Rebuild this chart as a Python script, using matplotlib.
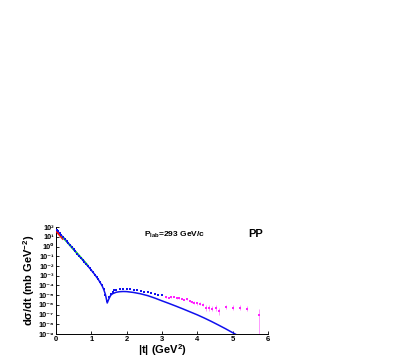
import numpy as np
import matplotlib
matplotlib.use("Agg")
import matplotlib.pyplot as plt

plt.rcParams['font.family'] = ['Liberation Sans', 'DejaVu Sans']
plt.rcParams['font.weight'] = 'bold'
plt.rcParams['mathtext.fontset'] = 'custom'
plt.rcParams['mathtext.rm'] = 'Liberation Sans:bold'
plt.rcParams['mathtext.bf'] = 'Liberation Sans:bold'
plt.rcParams['mathtext.it'] = 'Liberation Sans:bold'
plt.rcParams['mathtext.default'] = 'bf'

# Blue data points (|t|, log10 dsigma/dt)
t_blue = [0.02, 0.05, 0.1, 0.15, 0.2, 0.25, 0.3, 0.35, 0.4, 0.45, 0.5, 0.55, 0.6, 0.65,
          0.7, 0.75, 0.8, 0.85, 0.9, 0.95, 1.0, 1.05, 1.1, 1.15, 1.2, 1.25, 1.3, 1.35,
          1.4, 1.45, 1.5, 1.55, 1.6, 1.65, 1.7, 1.8, 1.9, 2.0, 2.1, 2.2, 2.3, 2.4, 2.5,
          2.6, 2.7, 2.8, 2.9, 3.0]
log_blue = [1.72, 1.6, 1.38, 1.17, 0.96, 0.75, 0.55, 0.34, 0.13, -0.08, -0.29, -0.5,
            -0.71, -0.92, -1.13, -1.34, -1.55, -1.76, -1.98, -2.2, -2.42, -2.65, -2.88,
            -3.12, -3.38, -3.66, -3.98, -4.38, -4.95, -5.55, -5.2, -4.85, -4.65, -4.5,
            -4.42, -4.35, -4.33, -4.35, -4.38, -4.43, -4.5, -4.57, -4.64, -4.72, -4.8,
            -4.88, -4.95, -5.02]

# Magenta data points with errors
t_mag = [3.12, 3.19, 3.27, 3.34, 3.42, 3.49, 3.56, 3.63, 3.70, 3.78, 3.85, 3.92, 4.0,
         4.07, 4.15, 4.24, 4.33, 4.43, 4.52, 4.62, 4.81, 5.01, 5.2, 5.4, 5.75]
log_mag = [-5.21, -5.28, -5.21, -5.17, -5.32, -5.28, -5.35, -5.45, -5.38, -5.55, -5.68,
           -5.76, -5.83, -5.89, -5.96, -6.3, -6.28, -6.37, -6.3, -6.64, -6.2, -6.27,
           -6.27, -6.37, -7.05]
err_mag = [0.05, 0.05, 0.05, 0.05, 0.05, 0.06, 0.06, 0.07, 0.08, 0.1, 0.12, 0.12, 0.14,
           0.15, 0.16, 0.3, 0.3, 0.3, 0.3, 0.35, 0.2, 0.25, 0.25, 0.3, 0.6]

# Model line
t_line = [0.0, 0.1, 0.2, 0.3, 0.4, 0.5, 0.6, 0.7, 0.8, 0.9, 1.0, 1.1, 1.2, 1.3, 1.35,
          1.4, 1.45, 1.5, 1.55, 1.6, 1.7, 1.8, 1.9, 2.0, 2.2, 2.4, 2.6, 2.8, 3.0, 3.2,
          3.4, 3.6, 3.8, 4.0, 4.2, 4.4, 4.6, 4.8, 5.0, 5.1]
log_line = [1.78, 1.36, 0.94, 0.53, 0.11, -0.31, -0.72, -1.14, -1.56, -1.99, -2.43,
            -2.89, -3.4, -4.0, -4.4, -4.95, -5.8, -5.35, -5.0, -4.85, -4.7, -4.64, -4.62,
            -4.63, -4.72, -4.86, -5.05, -5.3, -5.58, -5.85, -6.13, -6.42, -6.72, -7.02,
            -7.35, -7.7, -8.07, -8.45, -8.85, -9.05]

# Red and green low-t curves
t_red = [0.0, 0.06, 0.12, 0.19]
log_red = [1.6, 1.35, 1.1, 0.8]
t_green = [0.19, 0.4, 0.6, 0.88]
log_green = [1.0, 0.12, -0.71, -1.86]

# Tick labels
y_exps = [-9, -8, -7, -6, -5, -4, -3, -2, -1, 0, 1, 2]
y_ticklabels = ['10⁻⁹', '10⁻⁸', '10⁻⁷', '10⁻⁶', '10⁻⁵', '10⁻⁴', '10⁻³', '10⁻²',
                '10⁻¹', '10⁰', '10¹', '10²']
x_ticks = [0, 1, 2, 3, 4, 5, 6]

fig = plt.figure(figsize=(4.09, 3.6), dpi=100)
ax = fig.add_axes([0.137, 0.072, 0.518, 0.297])

ax.plot(t_line, 10.0 ** np.array(log_line), color='#1010ee', lw=1.1, zorder=2)
ax.plot(t_red, 10.0 ** np.array(log_red), color='#ee1111', lw=1.4, zorder=3)
ax.plot(t_green, 10.0 ** np.array(log_green), color='#22cc44', lw=1.4, zorder=3)
ax.plot(t_blue, 10.0 ** np.array(log_blue), 's', color='#1010ee', ms=2.0, mew=0, zorder=4)

lm = np.array(log_mag)
em = np.array(err_mag)
y = 10.0 ** lm
ylo = y - 10.0 ** (lm - em)
yhi = 10.0 ** (lm + em) - y
ylo[-1] = y[-1] - 1.1e-9
ax.errorbar(t_mag, y, yerr=[ylo, yhi], fmt='s', color='#ff22ff', ms=2.0, mew=0,
            elinewidth=0.6, capsize=1.5, capthick=0.6, ecolor='#ff88ff', zorder=3)

ax.set_yscale('log')
ax.set_xlim(0, 6)
ax.set_ylim(1e-9, 1e2)
ax.set_yticks([10.0 ** k for k in y_exps])
ax.set_yticklabels(y_ticklabels)
ax.yaxis.set_minor_locator(matplotlib.ticker.NullLocator())
ax.set_xticks(x_ticks)
ax.tick_params(axis='both', direction='in', length=2.5, width=0.6, pad=1.5)
ax.tick_params(axis='x', labelsize=5.5)
ax.tick_params(axis='y', labelsize=5.2)
for lab in ax.get_xticklabels() + ax.get_yticklabels():
    lab.set_fontweight('bold')
ax.spines['top'].set_visible(False)
ax.spines['right'].set_visible(False)
ax.spines['left'].set_linewidth(0.7)
ax.spines['bottom'].set_linewidth(0.7)

ax.set_xlabel(r'|t| (GeV$^{2}$)', fontsize=8, fontweight='bold', labelpad=-0.5)
ax.set_ylabel(r'd$\sigma$/dt (mb GeV$^{-2}$)', fontsize=8, fontweight='bold', labelpad=1)

ax.text(2.5, 10.0 ** 1.2, r'P$_{\mathregular{lab}}$=293 GeV/c', fontsize=6,
        fontweight='bold', ha='left', va='center')
ax.text(5.45, 10.0 ** 1.3, 'PP', fontsize=8, fontweight='bold', ha='left', va='center')

fig.savefig('out.png', dpi=100)
